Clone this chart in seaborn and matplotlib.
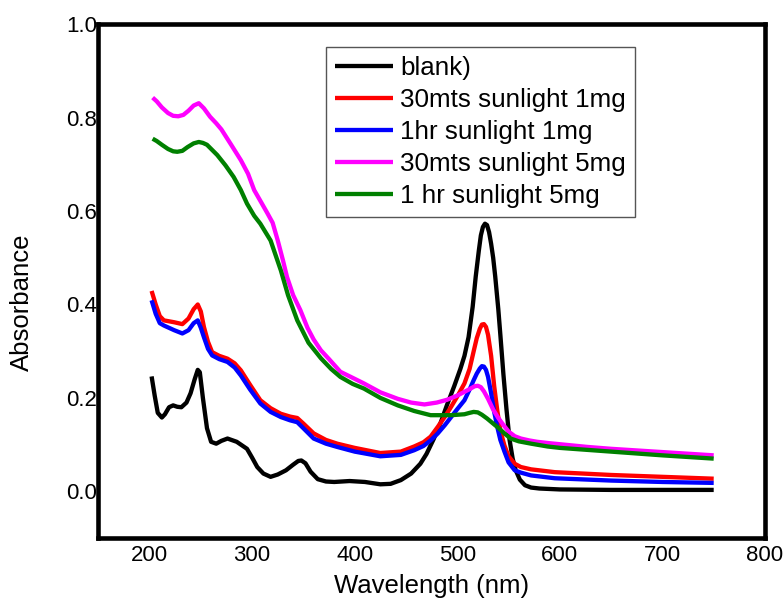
import numpy as np
import pandas as pd
import matplotlib
matplotlib.use("Agg")
import matplotlib.pyplot as plt
import seaborn as sns

# UV-Vis absorbance spectra
blank_wl = [202, 205, 208, 212, 215, 219, 223, 227, 231, 236, 240, 244, 247, 249, 252,
            256, 260, 265, 270, 276, 285, 295, 300, 305, 311, 318, 325, 333, 340, 345,
            348, 352, 357, 364, 372, 380, 395, 410, 425, 435, 445, 455, 464, 470, 477,
            484, 490, 497, 503, 507, 511, 515, 518, 521, 523, 525, 527, 529, 531, 533,
            535, 537, 540, 542, 545, 548, 551, 554, 557, 561, 566, 572, 580, 600, 650,
            700, 750]
blank_abs = [0.246, 0.205, 0.168, 0.158, 0.165, 0.18, 0.184, 0.181, 0.18, 0.19, 0.21,
             0.24, 0.26, 0.255, 0.2, 0.135, 0.106, 0.102, 0.108, 0.113, 0.106, 0.091,
             0.072, 0.052, 0.038, 0.031, 0.036, 0.045, 0.057, 0.065, 0.066, 0.06, 0.042,
             0.026, 0.021, 0.02, 0.022, 0.02, 0.015, 0.016, 0.024, 0.038, 0.059, 0.08,
             0.112, 0.148, 0.185, 0.225, 0.262, 0.29, 0.33, 0.395, 0.46, 0.515, 0.548,
             0.566, 0.573, 0.57, 0.555, 0.53, 0.5, 0.46, 0.39, 0.335, 0.25, 0.175, 0.11,
             0.07, 0.045, 0.025, 0.013, 0.008, 0.006, 0.004, 0.003, 0.003, 0.003]

s30_1mg_wl = [202, 206, 210, 214, 219, 224, 232, 238, 243, 247, 250, 253, 257, 261, 268,
              276, 283, 289, 298, 308, 318, 328, 337, 344, 350, 360, 372, 383, 400, 425,
              445, 458, 467, 474, 481, 488, 494, 500, 507, 512, 516, 519, 522, 524, 526,
              528, 530, 533, 536, 539, 542, 546, 550, 556, 562, 572, 595, 650, 700, 750]
s30_1mg_abs = [0.429, 0.40, 0.375, 0.366, 0.364, 0.362, 0.358, 0.37, 0.39, 0.40, 0.385,
               0.352, 0.32, 0.298, 0.29, 0.284, 0.274, 0.259, 0.228, 0.195, 0.178, 0.166,
               0.16, 0.157, 0.145, 0.124, 0.11, 0.102, 0.093, 0.082, 0.085, 0.096, 0.105,
               0.117, 0.138, 0.16, 0.181, 0.203, 0.231, 0.262, 0.30, 0.328, 0.348, 0.357,
               0.358, 0.352, 0.335, 0.29, 0.225, 0.173, 0.13, 0.098, 0.075, 0.059, 0.052,
               0.047, 0.041, 0.035, 0.031, 0.027]

h1_1mg_wl = [202, 206, 210, 214, 219, 224, 232, 238, 243, 247, 250, 253, 257, 261, 268,
             276, 283, 289, 298, 308, 318, 328, 337, 344, 350, 360, 372, 383, 400, 425,
             445, 458, 467, 474, 481, 488, 494, 500, 507, 512, 516, 519, 522, 524, 526,
             528, 530, 533, 536, 539, 542, 546, 550, 556, 562, 572, 595, 650, 700, 750]
h1_1mg_abs = [0.409, 0.38, 0.36, 0.355, 0.35, 0.345, 0.338, 0.345, 0.36, 0.366, 0.35,
              0.33, 0.305, 0.291, 0.283, 0.277, 0.265, 0.248, 0.218, 0.188, 0.17, 0.159,
              0.152, 0.148, 0.135, 0.113, 0.102, 0.095, 0.085, 0.075, 0.078, 0.088, 0.097,
              0.109, 0.124, 0.142, 0.159, 0.176, 0.195, 0.218, 0.238, 0.252, 0.263,
              0.268, 0.267, 0.26, 0.245, 0.21, 0.17, 0.138, 0.11, 0.085, 0.062, 0.045,
              0.04, 0.034, 0.028, 0.023, 0.02, 0.018]

s30_5mg_wl = [203, 207, 212, 218, 223, 228, 233, 238, 243, 248, 253, 259, 265, 270, 279,
              289, 296, 302, 308, 315, 320, 325, 330, 334, 340, 347, 354, 360, 367, 375,
              386, 398, 409, 425, 442, 455, 468, 480, 490, 500, 507, 513, 517, 520, 523,
              526, 530, 535, 540, 545, 550, 556, 562, 570, 578, 590, 627, 650, 700, 750]
s30_5mg_abs = [0.843, 0.835, 0.822, 0.81, 0.804, 0.803, 0.806, 0.815, 0.826, 0.831,
               0.82, 0.802, 0.788, 0.775, 0.744, 0.709, 0.68, 0.645, 0.622, 0.595, 0.575,
               0.537, 0.495, 0.459, 0.42, 0.388, 0.35, 0.325, 0.302, 0.283, 0.256, 0.243,
               0.231, 0.212, 0.198, 0.19, 0.186, 0.19, 0.196, 0.205, 0.213, 0.22, 0.225,
               0.226, 0.223, 0.214, 0.198, 0.175, 0.157, 0.142, 0.128, 0.118, 0.113,
               0.109, 0.106, 0.103, 0.095, 0.091, 0.084, 0.077]

h1_5mg_wl = [203, 207, 212, 218, 223, 227, 232, 237, 243, 248, 252, 256, 266, 274, 282,
             289, 295, 302, 308, 318, 323, 328, 335, 344, 355, 367, 377, 386, 398, 409,
             425, 442, 458, 474, 494, 507, 512, 516, 520, 524, 529, 535, 540, 546, 552,
             560, 572, 588, 600, 650, 700, 750]
h1_5mg_abs = [0.755, 0.75, 0.742, 0.733, 0.728, 0.727, 0.729, 0.737, 0.745, 0.748,
              0.746, 0.742, 0.72, 0.698, 0.673, 0.645, 0.616, 0.59, 0.573, 0.537, 0.505,
              0.473, 0.42, 0.366, 0.318, 0.285, 0.262, 0.245, 0.23, 0.22, 0.2, 0.184,
              0.172, 0.163, 0.163, 0.165, 0.168, 0.17, 0.169, 0.164, 0.156, 0.145, 0.136,
              0.124, 0.113, 0.107, 0.102, 0.096, 0.093, 0.085, 0.077, 0.07]

labels = ["blank)", "30mts sunlight 1mg", "1hr sunlight 1mg",
          "30mts sunlight 5mg", "1 hr sunlight 5mg"]
colors = ["#000000", "#ff0000", "#0000ff", "#ff00ff", "#008000"]

series = [(blank_wl, blank_abs), (s30_1mg_wl, s30_1mg_abs), (h1_1mg_wl, h1_1mg_abs),
          (s30_5mg_wl, s30_5mg_abs), (h1_5mg_wl, h1_5mg_abs)]
frames = []
for lab, (wl, ab) in zip(labels, series):
    frames.append(pd.DataFrame({"Wavelength": wl, "Absorbance": ab, "Sample": lab}))
df = pd.concat(frames, ignore_index=True)

sns.set_theme(style="white")
plt.rcParams["font.family"] = ["Liberation Sans", "DejaVu Sans"]
plt.rcParams["text.color"] = "black"

fig = plt.figure(figsize=(7.83, 6.01), dpi=100)
ax = fig.add_axes([0.1255, 0.1048, 0.8515, 0.8548])

sns.lineplot(data=df, x="Wavelength", y="Absorbance", hue="Sample",
             hue_order=labels, palette=dict(zip(labels, colors)),
             estimator=None, sort=False, linewidth=3.1, ax=ax)
for line in ax.get_lines():
    line.set_solid_joinstyle("round")
    line.set_solid_capstyle("butt")

ax.set_xlim(150, 800)
ax.set_ylim(-0.1, 1.0)
ax.set_xticks([200, 300, 400, 500, 600, 700, 800])
ax.set_yticks([0.0, 0.2, 0.4, 0.6, 0.8, 1.0])
ax.set_yticklabels(["0.0", "0.2", "0.4", "0.6", "0.8", "1.0"])
ax.tick_params(axis="both", length=0, labelsize=16, colors="black")
ax.tick_params(axis="x", pad=5)
ax.tick_params(axis="y", pad=1)

for sp in ax.spines.values():
    sp.set_visible(True)
    sp.set_color("black")
    sp.set_linewidth(3.3)

ax.set_xlabel("Wavelength (nm)", fontsize=18.5, color="black")
ax.set_ylabel("Absorbance", fontsize=18.5, color="black")
ax.xaxis.set_label_coords(0.5, -0.07)
ax.yaxis.set_label_coords(-0.114, 0.458)
ax.xaxis.label.set_va("top")
ax.yaxis.label.set_va("center")

leg = ax.legend(loc="upper left", bbox_to_anchor=(0.342, 0.955), fontsize=18.7,
                frameon=True, fancybox=False, edgecolor="#555555", framealpha=1,
                handlelength=2.2, handletextpad=0.3, labelspacing=0.3,
                borderpad=0.35, borderaxespad=0)
leg.get_frame().set_linewidth(1.0)
for txt in leg.get_texts():
    txt.set_color("black")
for line in leg.get_lines():
    line.set_linewidth(3.1)

fig.savefig("out.png", dpi=100)
